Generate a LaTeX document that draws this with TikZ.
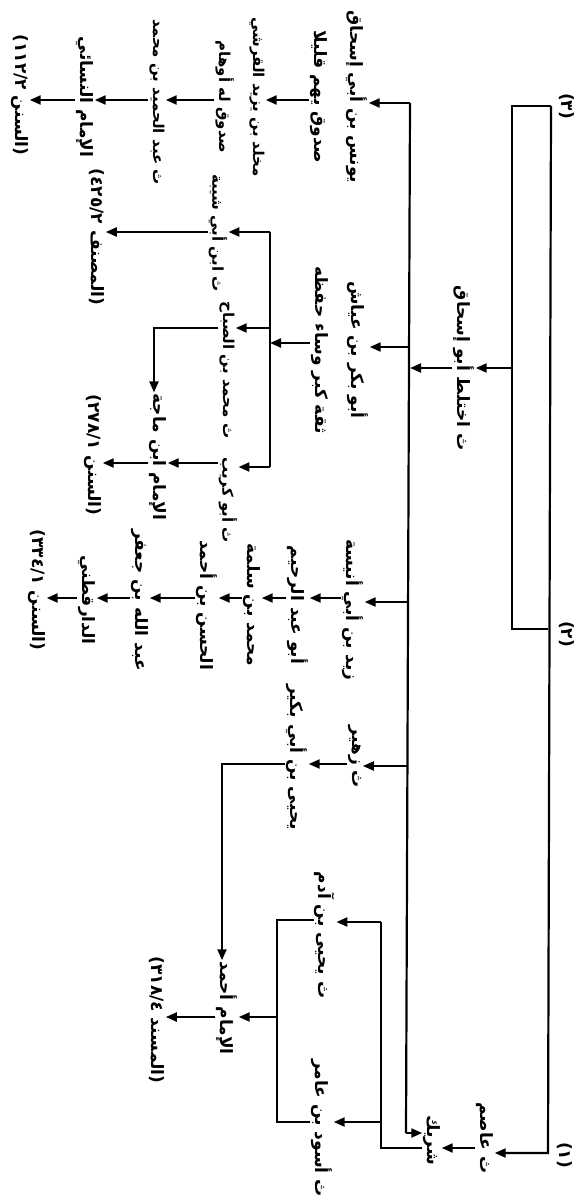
\documentclass[tikz,border=0pt]{standalone}
\usepackage{fontspec}
\newfontfamily\arabicfont[Script=Arabic]{DejaVu Sans}
\newfontfamily\plainfont{DejaVu Sans}
\TeXXeTstate=1
\usetikzlibrary{arrows.meta}
\newcommand{\AR}[1]{\beginR #1\endR}
\newcommand{\REF}[2]{\hbox{\plainfont(#1\ }\hbox{\arabicfont\AR{#2}}\hbox{\plainfont)}}
\newcommand{\NUM}[1]{\hbox{\plainfont(#1)}}
\tikzset{
  lbl/.style={rotate=-90, inner sep=1pt, align=center,
    font=\arabicfont\bfseries\fontsize{17}{36}\selectfont},
  lbls/.style={lbl, font=\arabicfont\bfseries\fontsize{15}{34}\selectfont},
  ln/.style={line width=2.2pt},
  arr/.style={line width=2.2pt, -{Triangle[length=11pt,width=9pt]}},
}
\begin{document}
\begin{tikzpicture}[x=1pt,y=1pt]
\useasboundingbox (0,0) rectangle (584,-1201);
% numbers
\node[lbl] (n3) at (567,-106) {\NUM{٣}};
\node[lbl] (n2) at (567,-634) {\NUM{٢}};
\node[lbl] (n1) at (565,-1155) {\NUM{١}};
% nodes
\node[lbl] (asim) at (485,-1138) {\AR{ث عاصم}};
\node[lbl] (sharik) at (432,-1140) {\AR{شريك}};
\node[lbl] (ikh) at (464,-368) {\AR{ث اختلط أبو إسحاق}};
% top chain (Nasa'i)
\node[lbl] (yunus) at (339,-97) {\AR{يونس بن أبي إسحاق}\\\AR{صدوق يهم قليلا}};
\node[lbls] (mukh) at (240,-97) {\AR{مخلد بن يزيد القرشي}\\\AR{صدوق له أوهام}};
\node[lbls] (abdh) at (157,-102) {\AR{ث عبد الحميد بن محمد}};
\node[lbl] (imam1) at (85,-97) {\AR{الإمام النسائي}};
\node[lbl] (ref1) at (20,-95) {\REF{١١٢/٢}{السنن}};
% middle chain
\node[lbl] (abubakr) at (340,-350) {\AR{أبو بكر بن عياش}\\\AR{ثقة كبر وساء حفظه}};
\node[lbls] (shayba) at (218,-233) {\AR{ث ابن أبي شيبة}};
\node[lbl] (ref2) at (97,-237) {\REF{٤٢٥/٢}{المصنف}};
\node[lbls] (sabbah) at (227,-370) {\AR{ث محمد بن الصباح}};
\node[lbls] (nodeD) at (228,-500) {\AR{ث أبو كريب}};
\node[lbl] (ibnmajah) at (158,-457) {\AR{الإمام ابن ماجة}};
\node[lbl] (ref3) at (93,-455) {\REF{٢٧٨/١}{السنن}};
% daraqutni chain
\node[lbl] (zayd) at (353,-610) {\AR{زيد بن أبي أنيسة}};
\node[lbl] (d1) at (298,-605) {\AR{أبو عبد الرحيم}};
\node[lbl] (d2) at (252,-605) {\AR{محمد بن سلمة}};
\node[lbl] (d3) at (207,-605) {\AR{الحسن بن أحمد}};
\node[lbl] (d4) at (140,-600) {\AR{عبد الله بن جعفر}};
\node[lbl] (daraq) at (87,-600) {\AR{الدارقطني}};
\node[lbl] (ref4) at (37,-590) {\REF{٣٣٤/١}{السنن}};
% ahmad chain
\node[lbl] (zuhayr) at (355,-757) {\AR{ث زهير}};
\node[lbl] (bukayr) at (297,-757) {\AR{يحيى بن أبي بكير}};
\node[lbl] (yadam) at (325,-935) {\AR{ث يحيى بن آدم}};
\node[lbl] (aswad) at (322,-1128) {\AR{ث أسود بن عامر}};
\node[lbl] (ahmad) at (227,-1008) {\AR{الإمام أحمد}};
\node[lbl] (musnad) at (157,-1020) {\REF{٣١٨/٤}{المسند}};

% coordinates
\coordinate (t3) at (551,-106);
\coordinate (bxl) at (512,-106);
\coordinate (bxb) at (512,-629);
\coordinate (t2) at (548,-629);
\coordinate (t1) at (548,-1153);
\coordinate (bx1) at (512,-368);
\coordinate (m0) at (410,-368);
\coordinate (mt) at (410,-103);
\coordinate (mb) at (406,-1133);
\coordinate (m1) at (409,-347);
\coordinate (m2) at (408,-602);
\coordinate (m3) at (407,-766);
\coordinate (a1) at (0,-1148);
\coordinate (s1) at (381,-1148);
\coordinate (s2) at (381,-922);
\coordinate (s3) at (381,-1122);
\coordinate (y1) at (277,-920);
\coordinate (y2) at (277,-1122);
\coordinate (y3) at (277,-1017);
\coordinate (z1) at (0,-764);
\coordinate (b1) at (222,-764);
\coordinate (h1) at (0,-1017);
\coordinate (tp) at (0,-100);
\coordinate (v1) at (270,-232);
\coordinate (v2) at (270,-467);
\coordinate (v3) at (270,-343);
\coordinate (v4) at (270,-328);
\coordinate (w1) at (154,-328);
\coordinate (w2) at (0,-463);
\coordinate (dd) at (0,-598);

% right structure
\draw[ln] (t3) -- (bxl) -- (bxb) -- (t2);
\draw[arr] (t3) -- (t1) -- (asim.north |- t1);
\draw[arr] (bx1) -- (ikh.north |- bx1);
\draw[arr] (ikh.south |- m0) -- (m0);
\draw[ln] (mt) -- (mb);
\draw[arr] (mt) -- (yunus.north |- mt);
\draw[arr] (m1) -- (abubakr.north |- m1);
\draw[arr] (m2) -- (zayd.north |- m2);
\draw[arr] (m3) -- (zuhayr.north |- m3);
\draw[arr] (mb) -- (sharik.south |- mb);
\draw[arr] (asim.south |- a1) -- (sharik.north |- a1);
\draw[ln] (sharik.south |- s1) -- (s1) -- (s2);
\draw[arr] (s2) -- (yadam.north |- s2);
\draw[arr] (s3) -- (aswad.north |- s3);
% ahmad
\draw[ln] (yadam.south |- y1) -- (y1) -- (y2) -- (aswad.south |- y2);
\draw[arr] (y3) -- (ahmad.north |- y3);
\draw[arr] (zuhayr.south |- z1) -- (bukayr.north |- z1);
\draw[arr] (bukayr.south |- b1) -- (b1) -- (b1 |- ahmad.west);
\draw[arr] (ahmad.south |- h1) -- (musnad.north |- h1);
% top chain
\draw[arr] (yunus.south |- tp) -- (mukh.north |- tp);
\draw[arr] (mukh.south |- tp) -- (abdh.north |- tp);
\draw[arr] (abdh.south |- tp) -- (imam1.north |- tp);
\draw[arr] (imam1.south |- tp) -- (ref1.north |- tp);
% middle chain
\draw[arr] (abubakr.south |- v3) -- (v3);
\draw[ln] (v1) -- (v2);
\draw[arr] (v1) -- (shayba.north |- v1);
\draw[arr] (shayba.south |- v1) -- (ref2.north |- v1);
\draw[arr] (v4) -- (sabbah.north |- v4);
\draw[arr] (sabbah.south |- v4) -- (w1) -- (w1 |- ibnmajah.west);
\draw[arr] (v2) -- (nodeD.north |- v2);
\draw[arr] (nodeD.south |- w2) -- (ibnmajah.north |- w2);
\draw[arr] (ibnmajah.south |- w2) -- (ref3.north |- w2);
% daraqutni chain
\draw[arr] (zayd.south |- dd) -- (d1.north |- dd);
\draw[arr] (d1.south |- dd) -- (d2.north |- dd);
\draw[arr] (d2.south |- dd) -- (d3.north |- dd);
\draw[arr] (d3.south |- dd) -- (d4.north |- dd);
\draw[arr] (d4.south |- dd) -- (daraq.north |- dd);
\draw[arr] (daraq.south |- dd) -- (ref4.north |- dd);
\end{tikzpicture}
\end{document}
